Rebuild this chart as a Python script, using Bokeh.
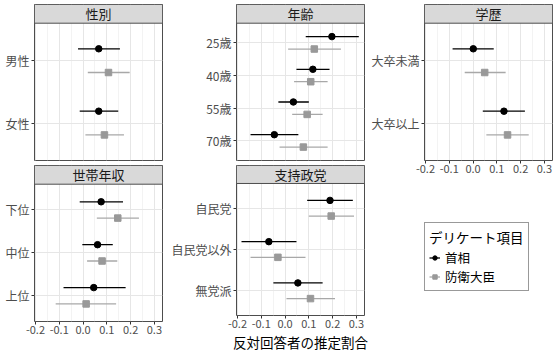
from bokeh.plotting import figure
from bokeh.models import FixedTicker, Range1d, Legend, LegendItem, ColumnDataSource
from bokeh.layouts import row, column
from bokeh.embed import file_html
from bokeh.resources import INLINE
from bokeh.core.properties import value

# ---------------- data ----------------
x_ticks = [-0.2, -0.1, 0.0, 0.1, 0.2, 0.3]
x_tick_labels = ["-0.2", "-0.1", "0.0", "0.1", "0.2", "0.3"]
x_minor = [-0.15, -0.05, 0.05, 0.15, 0.25]
series_names = ["首相", "防衛大臣"]
legend_title = "デリケート項目"
x_title = "反対回答者の推定割合"

sex_title = "性別"
sex_labels = ["男性", "女性"]
sex_pm = [0.066, 0.066]
sex_pm_lo = [-0.021, -0.014]
sex_pm_hi = [0.155, 0.148]
sex_dm = [0.107, 0.090]
sex_dm_lo = [0.020, 0.010]
sex_dm_hi = [0.196, 0.172]

age_title = "年齢"
age_labels = ["25歳", "40歳", "55歳", "70歳"]
age_pm = [0.197, 0.117, 0.035, -0.045]
age_pm_lo = [0.087, 0.048, -0.028, -0.145]
age_pm_hi = [0.310, 0.187, 0.100, 0.056]
age_dm = [0.123, 0.108, 0.093, 0.077]
age_dm_lo = [0.013, 0.038, 0.030, -0.023]
age_dm_hi = [0.235, 0.179, 0.158, 0.179]

edu_title = "学歴"
edu_labels = ["大卒未満", "大卒以上"]
edu_pm = [0.001, 0.130]
edu_pm_lo = [-0.086, 0.041]
edu_pm_hi = [0.087, 0.218]
edu_dm = [0.049, 0.145]
edu_dm_lo = [-0.035, 0.056]
edu_dm_hi = [0.137, 0.234]

inc_title = "世帯年収"
inc_labels = ["下位", "中位", "上位"]
inc_pm = [0.076, 0.061, 0.045]
inc_pm_lo = [-0.014, -0.003, -0.082]
inc_pm_hi = [0.168, 0.125, 0.179]
inc_dm = [0.146, 0.080, 0.013]
inc_dm_lo = [0.058, 0.017, -0.115]
inc_dm_hi = [0.235, 0.144, 0.139]

party_title = "支持政党"
party_labels = ["自民党", "自民党以外", "無党派"]
party_pm = [0.189, -0.068, 0.054]
party_pm_lo = [0.093, -0.183, -0.049]
party_pm_hi = [0.285, 0.048, 0.158]
party_dm = [0.194, -0.030, 0.107]
party_dm_lo = [0.100, -0.145, 0.006]
party_dm_hi = [0.290, 0.086, 0.210]

# ---------------- style ----------------
FONT = "Noto Sans CJK JP"
PM_COLOR = "#000000"
DM_COLOR = "#999999"
DM_LINE = "#a8a8a8"
DODGE = 0.19
X_START, X_END = -0.204, 0.334
FRAME_H = 156
PANEL_PX = 137.3
STRIP_PX = FRAME_H - PANEL_PX


def make_panel(title, labels, pm, pm_lo, pm_hi, dm, dm_lo, dm_hi,
               width, height, b_left, b_top, b_bottom, b_right,
               show_x=False, x_label=None):
    n = len(labels)
    ys = [n - i for i in range(n)]
    y0 = 0.4
    y_panel_top = n + 0.6
    upp = (y_panel_top - y0) / PANEL_PX
    y1 = y_panel_top + STRIP_PX * upp

    p = figure(width=width, height=height, output_backend="svg", toolbar_location=None,
               x_range=Range1d(X_START, X_END), y_range=Range1d(y0, y1),
               x_axis_location="below" if show_x else None,
               min_border_left=b_left, min_border_right=b_right,
               min_border_top=b_top, min_border_bottom=b_bottom)
    p.background_fill_color = "white"
    p.border_fill_color = "white"
    p.outline_line_color = "#4d4d4d"
    p.outline_line_width = 1

    xt = FixedTicker(ticks=x_ticks, minor_ticks=x_minor)
    p.xgrid.ticker = xt
    p.xgrid.grid_line_color = "#e6e6e6"
    p.xgrid.grid_line_width = 1
    p.xgrid.minor_grid_line_color = "#f0f0f0"
    p.xgrid.minor_grid_line_width = 0.8
    p.ygrid.ticker = FixedTicker(ticks=ys)
    p.ygrid.grid_line_color = "#e6e6e6"
    p.ygrid.grid_line_width = 1

    ya = p.yaxis[0]
    ya.ticker = FixedTicker(ticks=ys)
    ya.major_label_overrides = {y: lab for y, lab in zip(ys, labels)}
    ya.axis_line_color = None
    ya.major_tick_in = 0
    ya.major_tick_out = 3
    ya.major_tick_line_color = "#333333"
    ya.minor_tick_line_color = None
    ya.major_label_standoff = 2
    ya.major_label_text_font = FONT
    ya.major_label_text_font_size = "12px"
    ya.major_label_text_color = "#4d4d4d"

    if show_x:
        xa = p.xaxis[0]
        xa.ticker = xt
        xa.major_label_overrides = {t: s for t, s in zip(x_ticks, x_tick_labels)}
        xa.axis_line_color = None
        xa.major_tick_in = 0
        xa.major_tick_out = 3
        xa.major_tick_line_color = "#333333"
        xa.minor_tick_line_color = None
        xa.major_label_standoff = 0
        xa.major_label_text_font = FONT
        xa.major_label_text_font_size = "11px"
        xa.major_label_text_color = "#4d4d4d"
        if x_label:
            xa.axis_label = x_label
            xa.axis_label_text_font = FONT
            xa.axis_label_text_font_size = "13.5px"
            xa.axis_label_text_font_style = "normal"
            xa.axis_label_text_color = "#000000"
            xa.axis_label_standoff = 1

    y_pm = [y + DODGE for y in ys]
    y_dm = [y - DODGE for y in ys]
    src_pm = ColumnDataSource(dict(y=y_pm, x=pm, lo=pm_lo, hi=pm_hi))
    src_dm = ColumnDataSource(dict(y=y_dm, x=dm, lo=dm_lo, hi=dm_hi))
    p.segment(x0="lo", x1="hi", y0="y", y1="y", source=src_pm,
              line_color=PM_COLOR, line_width=1.3)
    p.scatter(x="x", y="y", source=src_pm, marker="circle", size=6.5,
              fill_color=PM_COLOR, line_color=PM_COLOR)
    p.segment(x0="lo", x1="hi", y0="y", y1="y", source=src_dm,
              line_color=DM_LINE, line_width=1.3)
    p.scatter(x="x", y="y", source=src_dm, marker="square", size=6.5,
              fill_color=DM_COLOR, line_color=DM_COLOR)

    # facet strip
    p.quad(left=[X_START], right=[X_END], bottom=[y_panel_top], top=[y1],
           fill_color="#d9d9d9", line_color="#4d4d4d", line_width=1)
    p.text(x=[(X_START + X_END) / 2], y=[(y_panel_top + y1) / 2], text=[title],
           text_align="center", text_baseline="middle",
           text_font=value(FONT), text_font_size="13px", text_color="#1a1a1a")
    return p


# column widths: 166 | 202 | 188 ; frames at x=34, 236, 424, width 128
f1 = make_panel(sex_title, sex_labels, sex_pm, sex_pm_lo, sex_pm_hi,
                sex_dm, sex_dm_lo, sex_dm_hi, 166, 161, 34, 4, 1, 4)
f4 = make_panel(inc_title, inc_labels, inc_pm, inc_pm_lo, inc_pm_hi,
                inc_dm, inc_dm_lo, inc_dm_hi, 166, 193, 34, 4, 33, 4, show_x=True)
f2 = make_panel(age_title, age_labels, age_pm, age_pm_lo, age_pm_hi,
                age_dm, age_dm_lo, age_dm_hi, 202, 161, 70, 4, 1, 4)
f5 = make_panel(party_title, party_labels, party_pm, party_pm_lo, party_pm_hi,
                party_dm, party_dm_lo, party_dm_hi, 202, 193, 70, 4, 33, 4,
                show_x=True, x_label=x_title)
f3 = make_panel(edu_title, edu_labels, edu_pm, edu_pm_lo, edu_pm_hi,
                edu_dm, edu_dm_lo, edu_dm_hi, 188, 180, 56, 4, 20, 4, show_x=True)

# legend panel (frame is aligned with the 学歴 panel above it)
f6 = figure(width=188, height=174, output_backend="svg", toolbar_location=None,
            x_range=Range1d(0, 1), y_range=Range1d(0, 1),
            x_axis_location=None, y_axis_location=None,
            min_border_left=0, min_border_right=0, min_border_top=0, min_border_bottom=0)
f6.xgrid.visible = False
f6.ygrid.visible = False
f6.outline_line_color = None
f6.background_fill_color = "white"
f6.border_fill_color = "white"
stub = ColumnDataSource(dict(x=[float("nan")], y=[float("nan")]))
l1 = f6.line(x="x", y="y", source=stub, line_color=PM_COLOR, line_width=1.3)
m1 = f6.scatter(x="x", y="y", source=stub, marker="circle", size=6.5,
                fill_color=PM_COLOR, line_color=PM_COLOR)
l2 = f6.line(x="x", y="y", source=stub, line_color=DM_LINE, line_width=1.3)
m2 = f6.scatter(x="x", y="y", source=stub, marker="square", size=6.5,
                fill_color=DM_COLOR, line_color=DM_COLOR)
legend = Legend(items=[LegendItem(label=series_names[0], renderers=[l1, m1]),
                       LegendItem(label=series_names[1], renderers=[l2, m2])],
                location=(0, 63))
legend.title = legend_title
legend.title_text_font = FONT
legend.title_text_font_size = "13.5px"
legend.title_text_font_style = "normal"
legend.title_text_color = "#000000"
legend.title_standoff = 1
legend.label_text_font = FONT
legend.label_text_font_size = "12.5px"
legend.label_text_color = "#000000"
legend.label_height = 11
legend.label_standoff = 5
legend.glyph_width = 11
legend.glyph_height = 11
legend.spacing = 0
legend.padding = 4
legend.margin = 0
legend.border_line_color = "#333333"
legend.border_line_width = 1
legend.background_fill_color = "white"
f6.add_layout(legend)

layout = row(column(f1, f4), column(f2, f5), column(f3, f6))
open("out.html", "w").write(file_html(layout, INLINE))
